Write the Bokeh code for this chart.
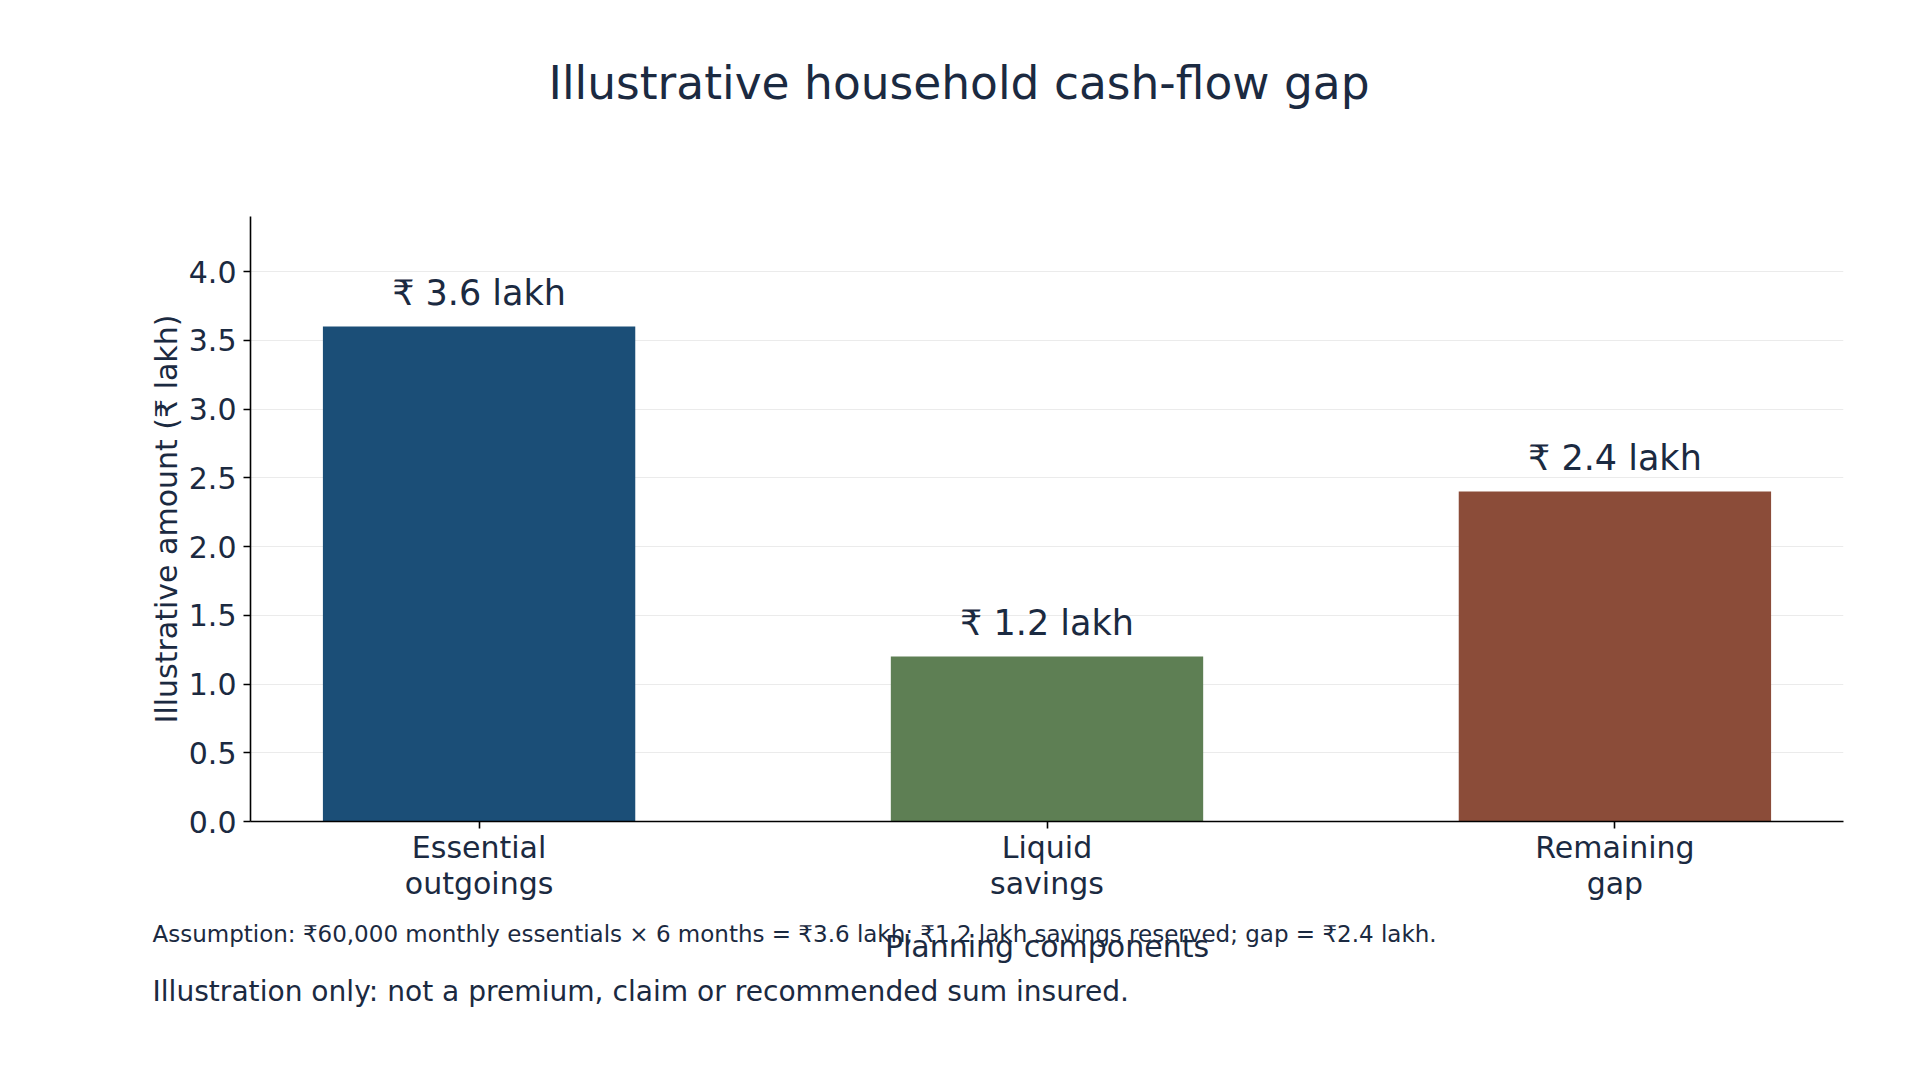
from bokeh.plotting import figure
from bokeh.models import ColumnDataSource, FixedTicker, PrintfTickFormatter, Label, Range1d
from bokeh.core.properties import value
from bokeh.embed import file_html
from bokeh.resources import INLINE

# ---- data ----
categories = ["Essential\noutgoings", "Liquid\nsavings", "Remaining\ngap"]
amounts = [3.6, 1.2, 2.4]
bar_colors = ["#1b4e77", "#5e7f54", "#8b4c39"]
bar_labels = ["₹ 3.6 lakh", "₹ 1.2 lakh", "₹ 2.4 lakh"]
y_ticks = [0.0, 0.5, 1.0, 1.5, 2.0, 2.5, 3.0, 3.5, 4.0]

title_text = "Illustrative household cash-flow gap"
x_label = "Planning components"
y_label = "Illustrative amount (₹ lakh)"
assumption_text = ("Assumption: ₹60,000 monthly essentials × 6 months = ₹3.6 lakh; "
                   "₹1.2 lakh savings reserved; gap = ₹2.4 lakh.")
note_text = "Illustration only: not a premium, claim or recommended sum insured."

FONT = "DejaVu Sans"
TXT = "#1b2a41"

xs = list(range(len(categories)))
src = ColumnDataSource(dict(x=xs, top=amounts, color=bar_colors, label=bar_labels))

p = figure(width=1904, height=1064, output_backend="svg", toolbar_location=None,
           x_range=Range1d(-0.4025, 2.4025), y_range=Range1d(0, 4.4))
p.min_border_left = 250
p.min_border_right = 61
p.min_border_top = 216
p.min_border_bottom = 243
p.outline_line_color = None
p.background_fill_color = "white"
p.border_fill_color = "white"

p.vbar(x="x", top="top", width=0.55, bottom=0, fill_color="color", line_color=None, source=src)
p.text(x="x", y="top", text="label", source=src, text_align="center",
       text_baseline="alphabetic", y_offset=-33.5, text_font=value(FONT),
       text_font_size="35px", text_color=TXT)

# grid
p.xgrid.grid_line_color = None
p.ygrid.grid_line_color = "#ebebeb"
p.ygrid.grid_line_width = 1
p.ygrid.ticker = FixedTicker(ticks=y_ticks)

# axes
for ax in (p.xaxis[0], p.yaxis[0]):
    ax.axis_line_color = "black"
    ax.axis_line_width = 1.6
    ax.major_tick_line_color = "black"
    ax.major_tick_line_width = 1.6
    ax.major_tick_out = 7
    ax.major_tick_in = 0
    ax.minor_tick_line_color = None
    ax.major_label_text_font = FONT
    ax.major_label_text_font_size = "30px"
    ax.major_label_text_color = TXT
    ax.axis_label_text_font = FONT
    ax.axis_label_text_font_size = "30px"
    ax.axis_label_text_color = TXT
    ax.axis_label_text_font_style = "normal"

p.xaxis.ticker = FixedTicker(ticks=xs)
p.xaxis.major_label_overrides = {i: c for i, c in zip(xs, categories)}
p.xaxis.major_label_standoff = 1
p.xaxis.major_label_text_line_height = 1.03
p.xaxis.axis_label = x_label
p.xaxis.axis_label_standoff = 25

p.yaxis.ticker = FixedTicker(ticks=y_ticks)
p.yaxis.formatter = PrintfTickFormatter(format="%.1f")
p.yaxis.major_label_standoff = 7
p.yaxis.axis_label = y_label
p.yaxis.axis_label_standoff = 2

# title placed in the upper side panel (screen units)
p.add_layout(Label(x=298, y=133, x_units="screen", y_units="screen", text=title_text,
                   text_align="left", text_baseline="alphabetic", text_font=FONT,
                   text_font_size="45.5px", text_color=TXT), "above")

# footnotes placed in the lower side panel (screen units)
p.add_layout(Label(x=-98, y=59, x_units="screen", y_units="screen", text=assumption_text,
                   text_align="left", text_baseline="alphabetic", text_font=FONT,
                   text_font_size="23px", text_color=TXT), "below")
p.add_layout(Label(x=-98, y=34, x_units="screen", y_units="screen", text=note_text,
                   text_align="left", text_baseline="alphabetic", text_font=FONT,
                   text_font_size="28.1px", text_color=TXT), "below")

open("out.html", "w").write(file_html(p, INLINE))
